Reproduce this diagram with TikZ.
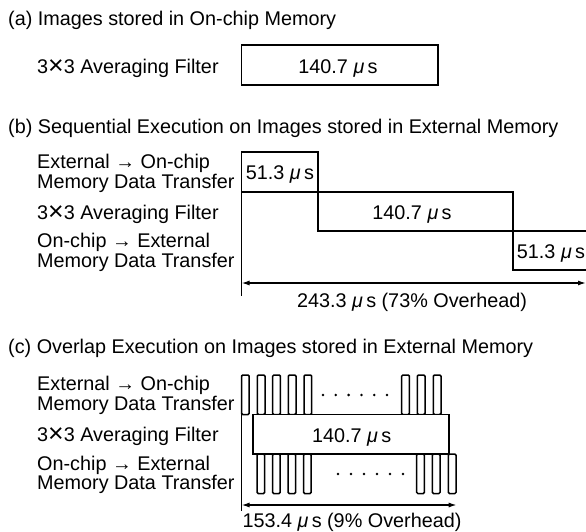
\documentclass[tikz,border=0pt]{standalone}
\usepackage{fontspec}
\setmainfont{Liberation Sans}
\usetikzlibrary{arrows.meta}
\newcommand{\musec}{{\itshape μ}\,s}
\newcommand{\bigtimes}{\raisebox{-0.6pt}{\scalebox{1.35}{×}}}
\begin{document}
\begin{tikzpicture}[x=1pt,y=-1pt,
  font=\fontsize{19.8}{22}\selectfont,
  lbl/.style={anchor=base west, inner sep=0pt},
  lbltwo/.style={anchor=base west, inner sep=0pt, align=left, font=\fontsize{19.8}{17.8}\selectfont},
  ctr/.style={anchor=base, inner sep=0pt},
  bar/.style={draw, line width=1.7pt},
  pulse/.style={draw, line width=1.5pt, rounded corners=1.2pt},
  dimline/.style={line width=1.4pt, {Latex[length=8pt,width=5pt]}-{Latex[length=8pt,width=5pt]}},
  dot/.style={circle, fill, inner sep=0pt, minimum size=2.8pt}]
\useasboundingbox (0,0) rectangle (586,532);

% ---------- (a) ----------
\node[lbl] (ta) at (8,26) {(a) Images stored in On-chip Memory};
\node[lbl] (la) at (37,73.5) {3\bigtimes3 Averaging Filter};
\node[bar, minimum width=196.5pt, minimum height=40pt, inner sep=0pt] (boxa) at (339.75,65) {};
\node[ctr] (va) at (338,74) {140.7 \musec};

% ---------- (b) ----------
\node[lbl] (tb) at (8,133) {(b) Sequential Execution on Images stored in External Memory};
\node[lbltwo] (lb1) at (37,188) {External → On-chip\\Memory Data Transfer};
\node[lbl] (lb3) at (37,219.5) {3\bigtimes3 Averaging Filter};
\node[lbltwo] (lb4) at (37,267) {On-chip → External\\Memory Data Transfer};

\coordinate (bAxT) at (241.5,152);
\coordinate (bAxB) at (241.5,296);
\draw[bar] (241.5,152) rectangle (318,192);
\draw[bar] (241.5,192) -- (513,192) -- (513,270) -- (600,270);
\draw[bar] (318,192) -- (318,231) -- (600,231);
\draw[bar] (bAxT) -- (bAxB);
\node[ctr] (vb1) at (280,179) {51.3 \musec};
\node[ctr] (vb2) at (412,219) {140.7 \musec};
\node[ctr] (vb3) at (551,258) {51.3 \musec};
\coordinate (bL) at (241.5,283);
\coordinate (bR) at (586,283);
\draw[dimline] (bL) -- (bR);
\node[ctr] (sb) at (412,307) {243.3 \musec\ (73\% Overhead)};

% ---------- (c) ----------
\node[lbl] (tc) at (8,353.5) {(c) Overlap Execution on Images stored in External Memory};
\node[lbltwo] (lc1) at (37,410) {External → On-chip\\Memory Data Transfer};
\node[lbl] (lc3) at (37,441.7) {3\bigtimes3 Averaging Filter};
\node[lbltwo] (lc4) at (37,489.5) {On-chip → External\\Memory Data Transfer};

\coordinate (cAxT) at (241.5,375);
\coordinate (cAxB) at (241.5,511);
\foreach \x in {241.5,257.3,272.7,288.3,304,401.7,417.3,433.3}
  \draw[pulse] (\x,414.5) -- (\x,375) -- (\x+7.7,375) -- (\x+7.7,414.5) -- cycle;
\foreach \x in {257,272.5,288,303.5,416.7,432.3,448.3}
  \draw[pulse] (\x,454) -- (\x,493.5) -- (\x+7.7,493.5) -- (\x+7.7,454) -- cycle;
\node[bar, fill=white, minimum width=196.3pt, minimum height=39.5pt, inner sep=0pt] (boxc) at (350.85,434.25) {};
\draw[bar] (cAxT) -- (cAxB);
\node[ctr] (vc) at (351.7,442.7) {140.7 \musec};
\foreach \i in {0,...,5} \node[dot] (dt\i) at (323+12.8*\i,395) {};
\foreach \i in {0,...,5} \node[dot] (db\i) at (338+13*\i,474) {};
\coordinate (cL) at (241.5,505);
\coordinate (cR) at (456.7,505);
\draw[dimline] (cL) -- (cR);
\node[ctr] (sc) at (352,527.5) {153.4 \musec\ (9\% Overhead)};
\end{tikzpicture}
\end{document}
